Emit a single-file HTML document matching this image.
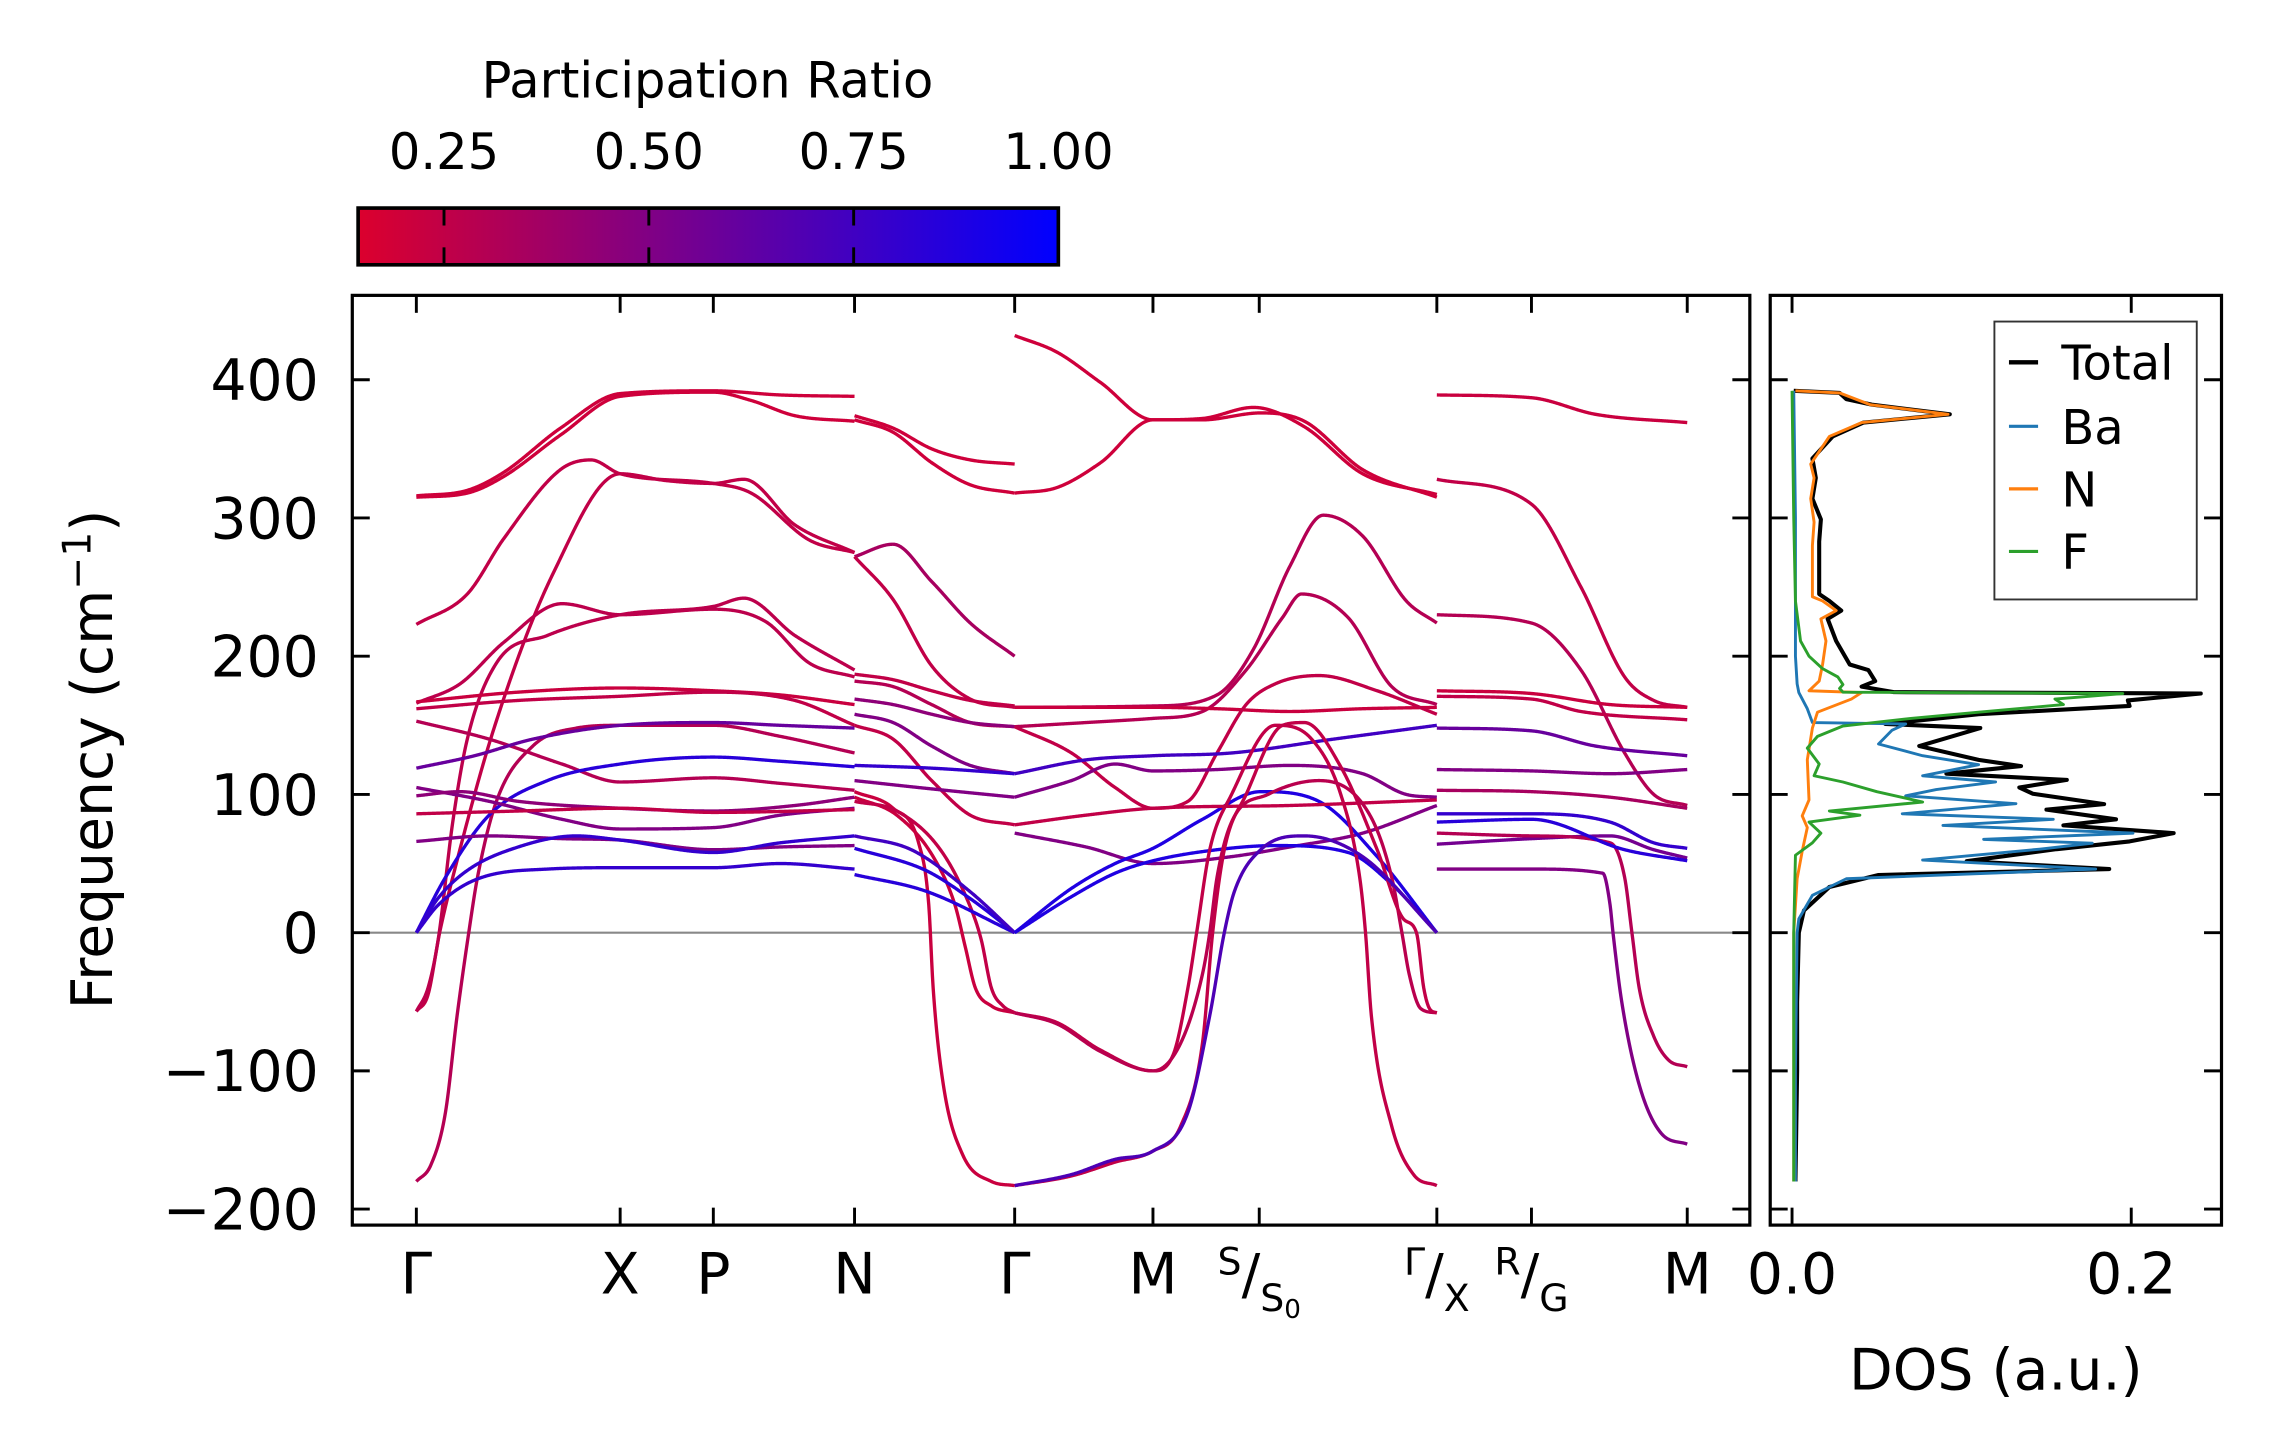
<!DOCTYPE html>
<html><head><meta charset="utf-8"><title>Phonon bands and DOS</title>
<style>
html,body{margin:0;padding:0;background:#fff;}
svg{display:block;}
text{font-family:"DejaVu Sans","Liberation Sans",sans-serif;fill:#000;}
</style></head>
<body>
<svg id="fig" width="2271" height="1455" viewBox="0 0 1560 1000" preserveAspectRatio="none" xmlns="http://www.w3.org/2000/svg">
<defs>
<linearGradient id="cmap" x1="0" x2="1" y1="0" y2="0">
<stop offset="0" stop-color="rgb(220,0,45)"/><stop offset="1" stop-color="rgb(0,0,255)"/>
</linearGradient>
<clipPath id="mainClip"><rect x="242" y="203" width="960" height="639"/></clipPath>
<clipPath id="dosClip"><rect x="1216" y="203" width="310" height="639"/></clipPath>
</defs>
<g>
<text x="486" y="67" font-size="34" text-anchor="middle">Participation Ratio</text>
<g id="cbTicks"></g>
<rect x="246" y="143" width="481" height="39" fill="url(#cmap)" stroke="#000" stroke-width="2.5"/>
<g id="cbTickMarks"></g>
</g>
<g id="mainAxes">
<line x1="242" x2="1202" y1="641" y2="641" stroke="#888" stroke-width="1.5"/>
<g id="bands" clip-path="url(#mainClip)"></g>
<rect x="242" y="203" width="960" height="639" fill="none" stroke="#000" stroke-width="2.2"/>
<g id="mainTicks"></g>
<text transform="translate(77,522) rotate(-90)" font-size="39" text-anchor="middle">Frequency (cm<tspan font-size="27" dy="-15">−1</tspan><tspan dy="15">)</tspan></text>
</g>
<g id="dosAxes">
<g id="dosLines" clip-path="url(#dosClip)"></g>
<rect x="1216" y="203" width="310" height="639" fill="none" stroke="#000" stroke-width="2.2"/>
<g id="dosTicks"></g>
<text x="1371" y="955" font-size="39" text-anchor="middle">DOS (a.u.)</text>
<g>
<rect x="1370" y="221" width="139" height="191" fill="#fff" stroke="#333" stroke-width="1.3"/>
<g><line x1="1380" x2="1400" y1="249" y2="249" stroke="#000" stroke-width="3"/><text x="1416" y="261" font-size="33">Total</text></g>
<g><line x1="1380" x2="1400" y1="293" y2="293" stroke="#1f77b4" stroke-width="2.2"/><text x="1416" y="305" font-size="33">Ba</text></g>
<g><line x1="1380" x2="1400" y1="336" y2="336" stroke="#ff7f0e" stroke-width="2.2"/><text x="1416" y="348" font-size="33">N</text></g>
<g><line x1="1380" x2="1400" y1="379" y2="379" stroke="#2ca02c" stroke-width="2.2"/><text x="1416" y="391" font-size="33">F</text></g>
</g>
</g>
</svg>
<script>
// ---------- chart data ----------
const kTickPos = [0, 1.40, 2.04, 3.01, 4.11, 5.06, 5.79, 7.01, 7.66, 8.73];
const kTickLabels = ["Γ","X","P","N","Γ","M","S/S0","Γ/X","R/G","M"];
const freqTicks = [400, 300, 200, 100, 0, -100, -200];
const freqTickLabels = ["400","300","200","100","0","−100","−200"];
const dosTicks = [0.0, 0.2];
const dosTickLabels = ["0.0","0.2"];
const cbTicks = [0.25, 0.50, 0.75, 1.00];
const cbTickLabels = ["0.25","0.50","0.75","1.00"];

// Path Γ-X-P-N
const path1Bands = [
 [[0,316],[0.35,320],[0.6,333],[0.99,365],[1.4,390],[2.04,392],[2.5,389],[3.01,388]],
 [[0,315],[0.35,318],[0.6,330],[0.99,360],[1.4,388],[2.04,391],[2.3,385],[2.6,374],[3.01,370]],
 [[0,223],[0.35,245],[0.6,285],[0.99,335],[1.2,342],[1.4,332],[2.04,325],[2.3,318],[2.7,284],[3.01,275]],
 [[0,-57],[0.08,-45],[0.16,0],[0.25,40],[0.54,150],[0.94,260],[1.4,332],[1.72,327],[2.04,325],[2.25,328],[2.6,295],[3.01,275]],
 [[0,-57],[0.08,-40],[0.15,-5],[0.25,80],[0.35,140],[0.55,195],[0.9,215],[1.4,230],[2.04,236],[2.25,242],[2.6,215],[3.01,190]],
 [[0,166],[0.3,180],[0.6,210],[1.0,238],[1.4,230],[2.04,234],[2.4,225],[2.7,195],[3.01,185]],
 [[0,-180],[0.1,-168],[0.2,-130],[0.28,-60],[0.36,0],[0.42,40],[0.55,95],[0.8,135],[1.1,148],[1.4,150],[2.04,150],[2.5,142],[3.01,130]],
 [[0,167],[0.7,174],[1.4,177],[2.04,175],[2.5,172],[3.01,165]],
 [[0,162],[0.7,168],[1.4,171],[2.04,174],[2.6,168],[3.01,150]],
 [[0,153],[0.5,140],[1.0,122],[1.4,109],[2.04,112],[2.5,108],[3.01,103]],
 [[0,119],[0.4,128],[0.8,140],[1.4,150],[2.04,152],[2.5,150],[3.01,148]],
 [[0,0],[0.2,40],[0.5,85],[0.9,110],[1.4,122],[2.04,127],[2.5,124],[3.01,120]],
 [[0,105],[0.5,95],[1.0,82],[1.4,75],[2.04,76],[2.5,85],[3.01,90]],
 [[0,99],[0.3,102],[0.7,95],[1.4,90],[2.04,88],[2.6,92],[3.01,98]],
 [[0,86],[0.7,88],[1.4,90],[2.04,87],[3.01,89]],
 [[0,66],[0.5,70],[1.0,68],[1.4,67],[2.04,60],[2.5,62],[3.01,63]],
 [[0,0],[0.15,20],[0.4,38],[0.9,46],[1.4,47],[2.04,47],[2.5,50],[3.01,46]],
 [[0,0],[0.15,25],[0.35,45],[0.7,62],[1.1,70],[1.4,67],[2.04,58],[2.5,65],[3.01,70]]
];
const path1PR = [0.2,0.2,0.25,0.25,0.27,0.27,0.3,0.22,0.25,0.3,0.6,0.85,0.5,0.45,0.25,0.5,0.8,0.8];

// Path N-Γ
const path2Bands = [
 [[3.01,374],[3.275,365],[3.54,350],[3.805,342],[4.11,339]],
 [[3.01,371],[3.275,362],[3.54,340],[3.805,324],[4.11,318]],
 [[3.01,272],[3.275,281],[3.54,254],[3.805,224],[4.11,200]],
 [[3.01,272],[3.275,241],[3.54,193],[3.805,169],[4.11,163]],
 [[3.01,187],[3.275,183],[3.54,175],[3.805,168],[4.11,164]],
 [[3.01,182],[3.275,178],[3.54,165],[3.805,152],[4.11,149]],
 [[3.01,169],[3.275,165],[3.54,158],[3.805,152],[4.11,149]],
 [[3.01,158],[3.275,152],[3.54,135],[3.805,121],[4.11,115]],
 [[3.01,150],[3.275,140],[3.54,110],[3.805,85],[4.11,78]],
 [[3.01,121],[3.54,119],[4.11,115]],
 [[3.01,110],[3.54,104],[4.11,98]],
 [[3.01,102],[3.275,90],[3.45,65],[3.52,20],[3.55,-40],[3.62,-110],[3.75,-160],[3.95,-180],[4.11,-183]],
 [[3.01,98],[3.3,85],[3.55,55],[3.7,20],[3.77,-10],[3.84,-40],[3.95,-53],[4.11,-58]],
 [[3.01,95],[3.3,88],[3.6,60],[3.8,20],[3.88,-5],[3.95,-40],[4.03,-53],[4.11,-58]],
 [[3.01,61],[3.5,45],[3.8,25],[4.11,0]],
 [[3.01,42],[3.5,30],[4.11,0]],
 [[3.01,70],[3.4,60],[3.8,30],[4.11,0]]
];
const path2PR = [0.2,0.2,0.35,0.25,0.25,0.3,0.45,0.5,0.25,0.8,0.5,0.22,0.22,0.25,0.85,0.85,0.75];

// Path Γ-M-S-Γ
const path3Bands = [
 [[4.11,432],[4.4,420],[4.7,398],[5.06,371],[5.4,372],[5.75,380],[6.1,366],[6.5,332],[7.01,317]],
 [[4.11,318],[4.4,322],[4.7,340],[5.06,371],[5.4,371],[5.8,376],[6.1,370],[6.5,335],[7.01,315]],
 [[4.11,163],[5.06,164],[5.5,172],[5.75,205],[6.0,265],[6.23,302],[6.5,287],[6.8,240],[7.01,224]],
 [[4.11,149],[4.6,152],[5.06,155],[5.4,160],[5.7,190],[5.95,228],[6.08,245],[6.4,228],[6.7,178],[7.01,165]],
 [[4.11,163],[5.06,163],[5.5,162],[6.0,160],[6.5,162],[7.01,163]],
 [[4.11,149],[4.5,130],[4.8,105],[5.06,90],[5.3,95],[5.5,130],[5.7,165],[5.9,180],[6.2,186],[6.6,175],[7.01,158]],
 [[4.11,115],[4.6,125],[5.06,128],[5.6,130],[6.3,140],[7.01,150]],
 [[4.11,98],[4.5,110],[4.8,122],[5.06,117],[5.5,118],[6.0,121],[6.5,115],[6.8,100],[7.01,98]],
 [[4.11,72],[4.6,62],[5.06,50],[5.6,55],[6.0,62],[6.5,72],[7.01,92]],
 [[4.11,0],[4.5,32],[4.8,50],[5.06,61],[5.4,82],[5.8,102],[6.2,95],[6.6,55],[7.01,0]],
 [[4.11,0],[4.5,26],[4.8,43],[5.06,52],[5.5,60],[5.9,63],[6.4,58],[6.7,35],[7.01,0]],
 [[4.11,78],[4.6,85],[5.06,90],[6.0,92],[7.01,96]],
 [[4.11,-58],[4.4,-65],[4.7,-85],[5.06,-100],[5.2,-88],[5.3,-40],[5.36,0],[5.45,60],[5.6,100],[5.9,150],[6.15,140],[6.35,100],[6.48,40],[6.52,0],[6.56,-60],[6.7,-140],[6.85,-175],[7.01,-183]],
 [[4.11,-58],[4.4,-66],[4.7,-86],[5.06,-100],[5.25,-80],[5.4,-30],[5.45,0],[5.5,40],[5.6,80],[5.85,100],[6.2,110],[6.55,85],[6.7,40],[6.77,0],[6.82,-30],[6.9,-55],[7.01,-58]],
 [[4.11,-183],[4.5,-176],[4.8,-166],[5.06,-158],[5.25,-140],[5.4,-80],[5.47,0],[5.55,60],[5.7,100],[5.95,150],[6.1,152],[6.35,120],[6.6,60],[6.78,10],[6.87,0],[6.92,-40],[6.96,-55],[7.01,-58]],
 [[4.11,-183],[4.5,-175],[4.8,-164],[5.06,-158],[5.3,-130],[5.45,-60],[5.55,0],[5.62,30],[5.8,60],[6.1,70],[6.5,55],[7.01,0]]
];
const path3PR = [0.2,0.2,0.3,0.3,0.22,0.25,0.75,0.5,0.5,0.88,0.88,0.25,0.25,0.28,0.25,0.7];

// Path X-R-M
const path4Bands = [
 [[7.01,389],[7.66,387],[8.1,375],[8.73,369]],
 [[7.01,328],[7.66,310],[8.0,250],[8.3,185],[8.5,168],[8.73,163]],
 [[7.01,230],[7.66,224],[8.0,190],[8.3,130],[8.5,100],[8.73,92]],
 [[7.01,175],[7.66,173],[8.2,165],[8.73,163]],
 [[7.01,171],[7.66,169],[8.0,160],[8.73,154]],
 [[7.01,148],[7.66,146],[8.1,135],[8.73,128]],
 [[7.01,118],[7.66,117],[8.2,115],[8.73,118]],
 [[7.01,103],[7.66,102],[8.2,98],[8.73,90]],
 [[7.01,86],[7.66,86],[8.2,80],[8.5,65],[8.73,61]],
 [[7.01,64],[7.66,68],[8.2,70],[8.5,60],[8.73,54]],
 [[7.01,46],[7.66,46],[8.15,43],[8.2,20],[8.22,0],[8.28,-50],[8.4,-110],[8.55,-145],[8.73,-153]],
 [[7.01,72],[7.66,70],[8.2,65],[8.3,40],[8.35,0],[8.4,-40],[8.5,-75],[8.6,-92],[8.73,-97]],
 [[7.01,80],[7.66,82],[8.3,60],[8.73,52]]
];
const path4PR = [0.22,0.25,0.3,0.22,0.25,0.6,0.5,0.35,0.8,0.55,0.5,0.3,0.85];

// DOS: [frequency, dos]
const dosTotal = [[392,0.001],[390.5,0.028],[386,0.032],[382,0.047],[375,0.093],[369,0.042],[359,0.024],[343,0.012],[329,0.014],[314,0.012],[299,0.017],[283,0.016],[245,0.016],[240,0.022],[233,0.029],[227,0.021],[211,0.026],[194,0.034],[190,0.045],[182,0.049],[178,0.041],[174,0.06],[173,0.241],[168,0.198],[164,0.199],[158,0.110],[151,0.055],[148,0.111],[135,0.075],[125,0.110],[120.5,0.135],[115,0.091],[110.5,0.162],[105,0.134],[100.5,0.142],[93,0.184],[89,0.150],[82,0.191],[77.6,0.160],[72,0.225],[66,0.199],[60.4,0.156],[51.7,0.103],[46,0.187],[41.7,0.051],[33,0.022],[16,0.007],[0,0.004],[-50,0.003],[-100,0.003],[-180,0.002]];
const dosBa = [[392,0.001],[300,0.002],[200,0.002],[180,0.003],[173.7,0.004],[162,0.009],[152,0.012],[151,0.067],[146.5,0.059],[136.5,0.051],[128,0.077],[121.5,0.110],[113.5,0.077],[109,0.120],[103.5,0.085],[99,0.067],[93.3,0.132],[86,0.065],[82,0.154],[77.6,0.089],[72,0.201],[67.5,0.113],[64.7,0.177],[60.4,0.146],[52.5,0.077],[46,0.179],[39,0.032],[27,0.012],[10,0.004],[0,0.003],[-100,0.002],[-180,0.002]];
const dosN = [[392,0.002],[390.5,0.028],[382,0.046],[375,0.092],[369,0.041],[359,0.022],[339,0.011],[329,0.013],[314,0.011],[297,0.013],[280,0.012],[243,0.012],[240,0.018],[233,0.026],[227,0.017],[211,0.020],[194,0.018],[182,0.016],[175,0.010],[173.7,0.041],[169,0.035],[159.5,0.015],[148,0.012],[125,0.009],[96,0.010],[84.5,0.006],[76,0.009],[59,0.006],[39,0.003],[0,0.001],[-180,0.001]];
const dosF = [[392,0.0],[300,0.001],[240,0.002],[211,0.005],[200,0.010],[191,0.018],[185,0.027],[179.5,0.030],[176.7,0.028],[174,0.03],[173,0.195],[169,0.155],[165,0.160],[159.5,0.110],[155,0.070],[149.5,0.030],[142,0.015],[133.5,0.009],[122,0.016],[113.5,0.013],[109,0.030],[102,0.050],[94.5,0.077],[88,0.022],[85,0.040],[80,0.010],[72,0.017],[65,0.012],[56,0.002],[0,0.001],[-180,0.001]];

// ---------- scales ----------
const NS = "http://www.w3.org/2000/svg";
function xK(k){ return 286 + k*100; }
function yF(v){ return 641 - 0.95*v; }
function xD(d){ return 1231 + d*1165; }
function xCB(p){ return 305 + (p-0.25)*(140.7/0.25); }
function prColor(p){
  let t = (p - 0.145)/(1.0 - 0.145); t = Math.max(0, Math.min(1, t));
  const r = Math.round(220*(1-t)), b = Math.round(45 + 210*t);
  return "rgb(" + r + ",0," + b + ")";
}
function mk(tag, attrs, parent){
  const el = document.createElementNS(NS, tag);
  for (const a in attrs) el.setAttribute(a, attrs[a]);
  parent.appendChild(el);
  return el;
}
function monoInterp(pts){
  const n = pts.length, xs = pts.map(p=>p[0]), ys = pts.map(p=>p[1]);
  const d = [], m = new Array(n).fill(0);
  for (let i=0;i<n-1;i++) d.push((ys[i+1]-ys[i])/(xs[i+1]-xs[i]));
  m[0] = d[0]; m[n-1] = d[n-2];
  for (let i=1;i<n-1;i++) m[i] = (d[i-1]*d[i] <= 0) ? 0 : (d[i-1]+d[i])/2;
  for (let i=0;i<n-1;i++){
    if (d[i] === 0){ m[i]=0; m[i+1]=0; continue; }
    const a = m[i]/d[i], b = m[i+1]/d[i], s = a*a+b*b;
    if (s > 9){ const t = 3/Math.sqrt(s); m[i]=t*a*d[i]; m[i+1]=t*b*d[i]; }
  }
  return function(x){
    let i = 0; while (i < n-2 && x > xs[i+1]) i++;
    const h = xs[i+1]-xs[i], t = (x-xs[i])/h, t2=t*t, t3=t2*t;
    return (2*t3-3*t2+1)*ys[i] + (t3-2*t2+t)*h*m[i] + (-2*t3+3*t2)*ys[i+1] + (t3-t2)*h*m[i+1];
  };
}

// ---------- bands ----------
const bandG = document.getElementById("bands");
function drawPath(bands, prs, pathName){
  bands.forEach(function(b, bi){
    const f = monoInterp(b);
    const k0 = b[0][0], k1 = b[b.length-1][0];
    const steps = Math.max(20, Math.round((k1-k0)*200));
    let dstr = "";
    for (let s=0;s<=steps;s++){
      const k = k0 + (k1-k0)*s/steps;
      dstr += (s===0?"M":"L") + xK(k).toFixed(2) + "," + yF(f(k)).toFixed(2);
    }
    const p = mk("path", {d:dstr, fill:"none", stroke:prColor(prs[bi]), "stroke-width":"2.3", "stroke-linejoin":"round"}, bandG);
    
    
  });
}
drawPath(path1Bands, path1PR, "gamma-x-p-n");
drawPath(path2Bands, path2PR, "n-gamma");
drawPath(path3Bands, path3PR, "gamma-m-s-gamma");
drawPath(path4Bands, path4PR, "x-r-m");

// ---------- main ticks & labels ----------
const mt = document.getElementById("mainTicks");
kTickPos.forEach(function(k, i){
  const x = xK(k);
  const t1 = mk("line", {x1:x, x2:x, y1:203, y2:215, stroke:"#000", "stroke-width":"2"}, mt);
  
  
  const t2 = mk("line", {x1:x, x2:x, y1:842, y2:830, stroke:"#000", "stroke-width":"2"}, mt);
  
  
  const lab = kTickLabels[i];
  const tx = mk("text", {x:x, y:889, "font-size":"39", "text-anchor":"middle"}, mt);
  
  
  if (lab.indexOf("/") >= 0){
    const parts = lab.split("/");
    const a = mk("tspan", {"font-size":"26", dy:"-13"}, tx); a.textContent = parts[0];
    const sl = mk("tspan", {"font-size":"38", dy:"13"}, tx); sl.textContent = "/";
    const main = parts[1].replace("0","");
    const bb = mk("tspan", {"font-size":"26", dy:"12"}, tx); bb.textContent = main;
    if (parts[1].indexOf("0") >= 0){ const z = mk("tspan", {"font-size":"18", dy:"5"}, tx); z.textContent = "0"; }
  } else {
    tx.textContent = lab;
  }
});
freqTicks.forEach(function(v, i){
  const y = yF(v);
  const a = mk("line", {x1:242, x2:254, y1:y, y2:y, stroke:"#000", "stroke-width":"2"}, mt);
  
  
  const b = mk("line", {x1:1202, x2:1190, y1:y, y2:y, stroke:"#000", "stroke-width":"2"}, mt);
  
  
  const t = mk("text", {x:219, y:y+14, "font-size":"39", "text-anchor":"end"}, mt);
  
  
  t.textContent = freqTickLabels[i];
});

// ---------- DOS ----------
const dl = document.getElementById("dosLines");
function drawDos(arr, color, w, name){
  const pts = arr.map(p => xD(p[1]).toFixed(2) + "," + yF(p[0]).toFixed(2)).join(" ");
  const pl = mk("polyline", {points:pts, fill:"none", stroke:color, "stroke-width":w, "stroke-linejoin":"round"}, dl);
  
  
}
drawDos(dosTotal, "#000", "2.8", "dos-total-line");
drawDos(dosBa, "#1f77b4", "2", "dos-ba-line");
drawDos(dosN, "#ff7f0e", "2", "dos-n-line");
drawDos(dosF, "#2ca02c", "2", "dos-f-line");

const dt = document.getElementById("dosTicks");
freqTicks.forEach(function(v){
  const y = yF(v);
  const a = mk("line", {x1:1216, x2:1228, y1:y, y2:y, stroke:"#000", "stroke-width":"2"}, dt);
  
  
  const b = mk("line", {x1:1526, x2:1514, y1:y, y2:y, stroke:"#000", "stroke-width":"2"}, dt);
  
  
});
dosTicks.forEach(function(d, i){
  const x = xD(d);
  const a = mk("line", {x1:x, x2:x, y1:203, y2:215, stroke:"#000", "stroke-width":"2"}, dt);
  
  
  const b = mk("line", {x1:x, x2:x, y1:842, y2:830, stroke:"#000", "stroke-width":"2"}, dt);
  
  
  const t = mk("text", {x:x, y:889, "font-size":"39", "text-anchor":"middle"}, dt);
  
  
  t.textContent = dosTickLabels[i];
});

// ---------- colorbar ticks ----------
const cbl = document.getElementById("cbTicks"), cbm = document.getElementById("cbTickMarks");
cbTicks.forEach(function(p, i){
  const x = xCB(p);
  const t = mk("text", {x:x, y:116, "font-size":"34", "text-anchor":"middle"}, cbl);
  
  
  t.textContent = cbTickLabels[i];
  if (p < 0.99){
    const a = mk("line", {x1:x, x2:x, y1:143, y2:155, stroke:"#000", "stroke-width":"2"}, cbm);
    
    
    const b = mk("line", {x1:x, x2:x, y1:182, y2:170, stroke:"#000", "stroke-width":"2"}, cbm);
    
    
  }
});
</script>
</body></html>
